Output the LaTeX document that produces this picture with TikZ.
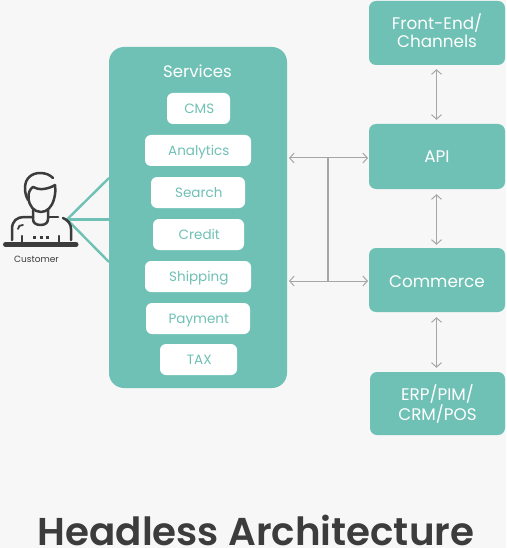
\documentclass[tikz,border=0pt]{standalone}
\usepackage{fontspec}
\setmainfont{Poppins}
\newfontfamily\titlefont{Poppins SemiBold}
\usetikzlibrary{arrows.meta}
\definecolor{teal1}{HTML}{6FC1B5}
\definecolor{bgc}{HTML}{F7F7F7}
\definecolor{arrowc}{HTML}{A6A6A6}
\definecolor{dark}{HTML}{3C3C3C}
\tikzset{
  panel/.style={fill=teal1,rounded corners=7pt,anchor=center,inner sep=0pt,text=white,align=center,font=\fontsize{16.8}{18.5}\selectfont},
  svc/.style={fill=white,draw=none,rounded corners=6pt,inner sep=0pt,text=teal1,text height=10pt,text depth=0pt,font=\fontsize{13.5}{16}\selectfont,execute at begin node=\hspace*{1.6pt}},
  link/.style={draw=arrowc,line width=1pt,{Straight Barb[length=4.5pt,width=10pt,line width=1pt]}-{Straight Barb[length=4.5pt,width=10pt,line width=1pt]}},
  bar/.style={draw=arrowc,line width=1.4pt},
  spoke/.style={draw=teal1,line width=2.4pt},
  icon/.style={draw=dark,line width=2.5pt,line cap=round,line join=round}
}
\newcommand{\boxat}[7]{\node[#1,minimum width=#4pt,minimum height=#5pt] (#6) at (#2,#3) {#7};}
\begin{document}
\begin{tikzpicture}[x=1pt,y=-1pt]
\path[use as bounding box,fill=bgc] (0,0) rectangle (506,548);
% services
\node[fill=teal1,rounded corners=15pt,minimum width=178pt,minimum height=341pt,inner sep=0pt] (services) at (198,217.5) {};
\node[text=white,font=\fontsize{16.6}{18}\selectfont] (servicestitle) at (197.5,71) {Services};
\boxat{svc}{198.5}{108.5}{63}{31}{cms}{CMS}
\boxat{svc}{198}{150.5}{106}{31}{analytics}{Analytics}
\boxat{svc}{198}{192.5}{94}{31}{search}{Search}
\boxat{svc}{198.5}{234.5}{91}{31}{credit}{Credit}
\boxat{svc}{198}{276.5}{106}{31}{shipping}{Shipping}
\boxat{svc}{198}{318.5}{104}{31}{payment}{Payment}
\boxat{svc}{198.5}{359.5}{77}{31}{tax}{TAX}
% right column
\boxat{panel}{437}{33}{136}{64}{front}{Front-End/\\Channels\\[-14pt]\mbox{}}
\boxat{panel}{437}{156.5}{136}{65}{api}{API}
\boxat{panel,text height=15pt,text depth=0pt}{437}{280}{136}{64}{commerce}{Commerce}
\boxat{panel}{437.5}{403.5}{135}{63}{erp}{ERP/PIM/\\CRM/POS\\[-16pt]\mbox{}}
% vertical links
\draw[link] ([xshift=-.5pt,yshift=-4pt]front.south) -- ([xshift=-.5pt,yshift=4pt]api.north);
\draw[link] ([xshift=-.5pt,yshift=-5pt]api.south) -- ([xshift=-.5pt,yshift=3pt]commerce.north);
\draw[link] ([xshift=-.5pt,yshift=-5pt]commerce.south) -- ([xshift=-1pt,yshift=4pt]erp.north);
% horizontal links
\coordinate (hubA) at (328,158);
\coordinate (hubB) at (328,281);
\coordinate (apiEnd) at (368,158);
\coordinate (comEnd) at (368,281);
\coordinate (svcA) at (289,158);
\coordinate (svcB) at (289,281);
\draw[link] (svcA) -- (apiEnd);
\draw[link] (svcB) -- (comEnd);
\draw[bar] (hubA) -- (hubB);
% customer spokes
\coordinate (hub) at (67,219.5);
\coordinate (s1) at (109,178);
\coordinate (s2) at (109,219.5);
\coordinate (s3) at (109,262);
\draw[spoke] (hub) -- (s1);
\draw[spoke] (hub) -- (s2);
\draw[spoke] (hub) -- (s3);
% icon
\draw[icon] (28,200) .. controls (26,196) and (25,193) .. (25,188) .. controls (25,178) and (32,173) .. (40,173) .. controls (46,173) and (50,175) .. (53,178);
\draw[icon] (55,185) .. controls (55.5,190) and (55.5,194) .. (54,199) .. controls (52,207) and (47,212) .. (41,212) .. controls (34,212) and (29,206) .. (28.5,198) .. controls (28,193) and (30,189) .. (33,187) .. controls (38,190) and (47,190) .. (55,185);
\draw[icon] (33,210) -- (33,219) .. controls (33,223) and (36,225) .. (40.5,225) .. controls (45,225) and (48,223) .. (48,219) -- (48,210);
\draw[icon] (12,240) -- (12,229) .. controls (12,221) and (17,217) .. (24,217) -- (33,217);
\draw[icon] (48,217) -- (58,217);
\draw[icon] (63,218) .. controls (68,220) and (71,224) .. (71,229) -- (71,240);
\draw[icon,line width=1.8pt] (18,229) .. controls (18,226) and (20,225) .. (23,225);
\draw[icon] (22,236) -- (22,243);
\draw[icon] (59,236) -- (59,243);
\draw[icon,line width=3pt,line cap=butt] (33,237.5) -- (36,237.5) (39.5,237.5) -- (42.5,237.5) (46,237.5) -- (49,237.5);
\draw[icon,line width=5pt] (5.5,244.5) -- (76,244.5);
\node[text=dark,font=\fontsize{9}{11}\selectfont] (customer) at (36.5,259) {Customer};
% title
\node[text=dark,font=\titlefont\fontsize{38.8}{42}\selectfont,anchor=base] (title) at (256,545) {Headless Architecture};
\end{tikzpicture}
\end{document}
